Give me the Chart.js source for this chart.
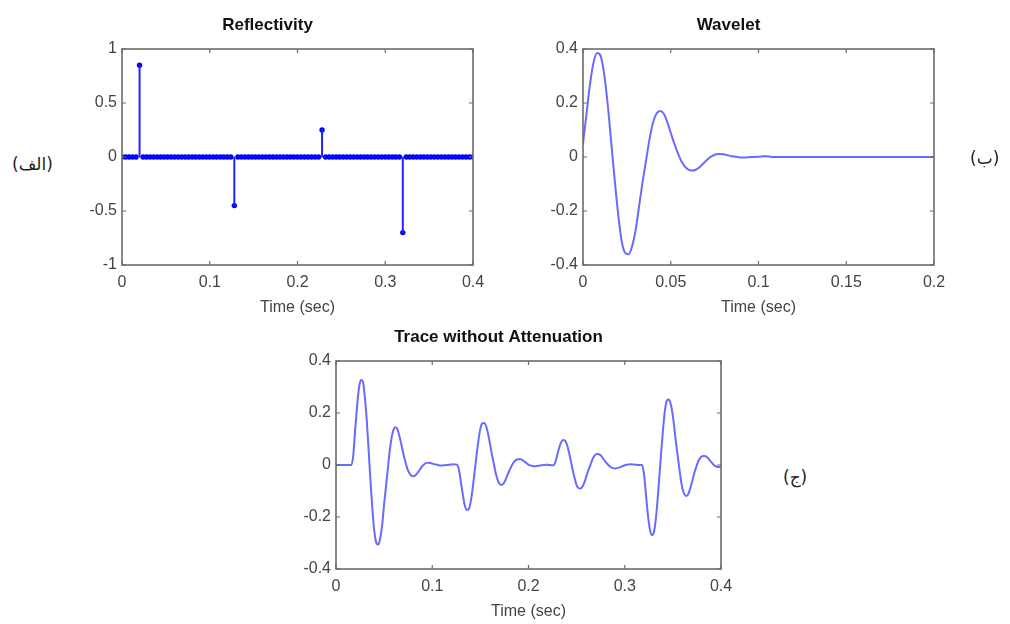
<!DOCTYPE html>
<html>
<head>
<meta charset="utf-8">
<script src="https://cdn.jsdelivr.net/npm/chart.js@4.4.1/dist/chart.umd.min.js"></script>
<style>
  body { margin: 0; background: #fff; width: 1010px; height: 624px; position: relative; overflow: hidden; }
  .box { position: absolute; }
  .lbl { position: absolute; font-family: "DejaVu Sans", sans-serif; font-size: 17px; line-height: 22px; color: #222; direction: rtl; }
</style>
</head>
<body>
<div class="box" style="left:62px;top:13px;width:471px;height:306px"><canvas id="refl"></canvas></div>
<div class="box" style="left:523px;top:13px;width:471px;height:306px"><canvas id="wave"></canvas></div>
<div class="box" style="left:276px;top:325px;width:505px;height:298px"><canvas id="trace"></canvas></div>
<div class="lbl" style="left:12px;top:153px">(الف)</div>
<div class="lbl" style="left:970px;top:147px">(ب)</div>
<div class="lbl" style="left:783px;top:466px">(ج)</div>
<script>
// reflectivity series, one sample every 4 ms
const reflDt = 0.004;
const reflValues = [
  0, 0, 0, 0, 0, 0.85, 0, 0, 0, 0,
  0, 0, 0, 0, 0, 0, 0, 0, 0, 0,
  0, 0, 0, 0, 0, 0, 0, 0, 0, 0,
  0, 0, -0.45, 0, 0, 0, 0, 0, 0, 0,
  0, 0, 0, 0, 0, 0, 0, 0, 0, 0,
  0, 0, 0, 0, 0, 0, 0, 0.25, 0, 0,
  0, 0, 0, 0, 0, 0, 0, 0, 0, 0,
  0, 0, 0, 0, 0, 0, 0, 0, 0, 0,
  -0.7, 0, 0, 0, 0, 0, 0, 0, 0, 0,
  0, 0, 0, 0, 0, 0, 0, 0, 0, 0,
  0
];

// wavelet, one sample every 2 ms
const waveDt = 0.002;
const waveValues = [
  0.05, 0.16, 0.27, 0.35, 0.385, 0.375, 0.31, 0.20, 0.06, -0.08,
  -0.21, -0.31, -0.355, -0.36, -0.33, -0.27, -0.18, -0.09, -0.01, 0.07,
  0.13, 0.162, 0.17, 0.16, 0.13, 0.09, 0.05, 0.015, -0.015, -0.035,
  -0.047, -0.05, -0.048, -0.04, -0.028, -0.015, -0.003, 0.005, 0.01, 0.011,
  0.01, 0.007, 0.004, 0.002, 0, -0.002, -0.002, -0.001, 0, 0,
  0.001, 0.002, 0.003, 0.002, 0, 0, 0, 0, 0, 0,
  0, 0, 0, 0, 0, 0, 0, 0, 0, 0,
  0, 0, 0, 0, 0, 0, 0, 0, 0, 0,
  0, 0, 0, 0, 0, 0, 0, 0, 0, 0,
  0, 0, 0, 0, 0, 0, 0, 0, 0, 0,
  0
];

// trace without attenuation, one sample every 2 ms
const traceDt = 0.002;
const traceValues = [
  0, 0, 0, 0, 0, 0, 0, 0, 0, 0.04,
  0.14, 0.23, 0.30, 0.327, 0.32, 0.26, 0.17, 0.05, -0.07, -0.18,
  -0.26, -0.30, -0.306, -0.28, -0.23, -0.15, -0.08, -0.01, 0.06, 0.11,
  0.138, 0.145, 0.136, 0.11, 0.077, 0.043, 0.013, -0.013, -0.03, -0.04,
  -0.043, -0.041, -0.034, -0.024, -0.013, -0.003, 0.004, 0.008, 0.009, 0.008,
  0.006, 0.003, 0.002, 0, -0.002, -0.002, -0.001, 0, 0, 0.001,
  0.002, 0.003, 0.002, 0, -0.023, -0.072, -0.12, -0.158, -0.173, -0.169,
  -0.14, -0.09, -0.027, 0.036, 0.095, 0.14, 0.16, 0.162, 0.149, 0.12,
  0.081, 0.04, 0.005, -0.032, -0.058, -0.073, -0.077, -0.072, -0.058, -0.04,
  -0.022, -0.007, 0.007, 0.016, 0.021, 0.022, 0.022, 0.018, 0.013, 0.007,
  0.001, -0.002, -0.004, -0.005, -0.004, -0.003, -0.002, -0.001, 0, 0.001,
  0.001, 0, -0.001, -0.001, 0.012, 0.04, 0.068, 0.088, 0.096, 0.094,
  0.078, 0.05, 0.015, -0.02, -0.052, -0.078, -0.089, -0.09, -0.083, -0.068,
  -0.045, -0.022, -0.003, 0.018, 0.033, 0.041, 0.042, 0.04, 0.033, 0.022,
  0.012, 0.004, -0.004, -0.009, -0.012, -0.013, -0.012, -0.01, -0.007, -0.004,
  -0.001, 0.001, 0.002, 0.003, 0.002, 0.002, 0.001, 0, 0, 0,
  -0.035, -0.112, -0.19, -0.245, -0.27, -0.263, -0.217, -0.14, -0.042, 0.056,
  0.147, 0.217, 0.249, 0.252, 0.231, 0.189, 0.126, 0.063, 0.007, -0.049,
  -0.091, -0.113, -0.119, -0.112, -0.091, -0.063, -0.035, -0.011, 0.011, 0.025,
  0.033, 0.035, 0.034, 0.028, 0.02, 0.011, 0.002, -0.004, -0.007, -0.008,
  -0.007
];

// tick labels
const reflXTicks = [0, 0.1, 0.2, 0.3, 0.4];
const reflYTicks = [-1, -0.5, 0, 0.5, 1];
const waveXTicks = [0, 0.05, 0.1, 0.15, 0.2];
const waveYTicks = [-0.4, -0.2, 0, 0.2, 0.4];
const traceXTicks = [0, 0.1, 0.2, 0.3, 0.4];
const traceYTicks = [-0.4, -0.2, 0, 0.2, 0.4];

Chart.defaults.font.family = "'Liberation Sans', Arial, sans-serif";

function toPoints(vals, dt) {
  return vals.map((v, i) => ({ x: i * dt, y: v }));
}
const fmt = v => String(Math.round(v * 1000) / 1000);

// matlab style box with inward ticks
const frame = {
  id: 'frame',
  afterDraw(chart) {
    const { ctx, chartArea: a, scales: { x, y } } = chart;
    ctx.save();
    ctx.strokeStyle = '#6b6b6b';
    ctx.lineWidth = 1.6;
    ctx.strokeRect(a.left, a.top, a.right - a.left, a.bottom - a.top);
    ctx.lineWidth = 1.2;
    ctx.beginPath();
    x.ticks.forEach(t => {
      const px = x.getPixelForValue(t.value);
      ctx.moveTo(px, a.bottom); ctx.lineTo(px, a.bottom - 4);
      ctx.moveTo(px, a.top); ctx.lineTo(px, a.top + 4);
    });
    y.ticks.forEach(t => {
      const py = y.getPixelForValue(t.value);
      ctx.moveTo(a.left, py); ctx.lineTo(a.left + 4, py);
      ctx.moveTo(a.right, py); ctx.lineTo(a.right - 4, py);
    });
    ctx.stroke();
    ctx.restore();
  }
};

function build(id, title, datasets, xTicks, yTicks) {
  return new Chart(document.getElementById(id), {
    type: 'line',
    data: { datasets },
    options: {
      responsive: true,
      maintainAspectRatio: false,
      animation: false,
      events: [],
      layout: { padding: { left: 0, right: 60, top: 0, bottom: 0 } },
      plugins: {
        legend: { display: false },
        tooltip: { enabled: false },
        title: {
          display: true, text: title, color: '#111',
          font: { size: 17, weight: 'bold', lineHeight: 1 },
          padding: { top: 4, bottom: 15 }
        }
      },
      scales: {
        x: {
          type: 'linear', min: xTicks[0], max: xTicks[xTicks.length - 1], offset: false,
          grid: { display: false, drawTicks: false, offset: false }, border: { display: false },
          afterBuildTicks: s => { s.ticks = xTicks.map(v => ({ value: v })); },
          afterFit: s => { s.height = 54; },
          ticks: { color: '#444', font: { size: 16 }, padding: 8, maxRotation: 0, autoSkip: false, callback: fmt },
          title: { display: true, text: 'Time (sec)', color: '#444', font: { size: 16 }, padding: { top: 0, bottom: 2 } }
        },
        y: {
          type: 'linear', min: yTicks[0], max: yTicks[yTicks.length - 1],
          grid: { display: false, drawTicks: false }, border: { display: false },
          afterBuildTicks: s => { s.ticks = yTicks.map(v => ({ value: v })); },
          afterFit: s => { s.width = 60; },
          ticks: { color: '#444', font: { size: 16 }, padding: 5, autoSkip: false, callback: fmt }
        }
      }
    },
    plugins: [frame]
  });
}

const reflPts = toPoints(reflValues, reflDt);
build('refl', 'Reflectivity', [
  { type: 'bar', data: reflPts, backgroundColor: '#1f1fff', barThickness: 1.3, borderWidth: 0 },
  { data: reflPts, showLine: false, pointRadius: 2.7, pointBackgroundColor: '#0000ff', pointBorderWidth: 0 }
], reflXTicks, reflYTicks);

build('wave', 'Wavelet', [
  { data: toPoints(waveValues, waveDt), borderColor: '#6a6aff', borderWidth: 2, pointRadius: 0, cubicInterpolationMode: 'monotone' }
], waveXTicks, waveYTicks);

build('trace', 'Trace without Attenuation', [
  { data: toPoints(traceValues, traceDt), borderColor: '#6a6aff', borderWidth: 2, pointRadius: 0, cubicInterpolationMode: 'monotone' }
], traceXTicks, traceYTicks);
</script>
</body>
</html>
